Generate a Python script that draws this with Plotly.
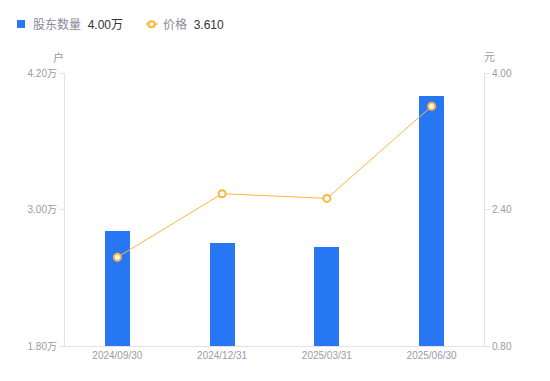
import plotly.graph_objects as go

categories = ["2024/09/30", "2024/12/31", "2025/03/31", "2025/06/30"]
holders = [2.81, 2.705, 2.67, 4.00]   # 万户
price = [1.84, 2.585, 2.53, 3.61]     # 元
left_ticks = [1.80, 3.00, 4.20]
right_ticks = [0.80, 2.40, 4.00]

FONT = "Liberation Sans, Noto Sans CJK SC, sans-serif"
GRAY = "#9b9ba8"
AXIS = "#e2e2e8"

fig = go.Figure()
fig.add_trace(go.Bar(
    x=categories, y=holders, name="股东数量",
    marker=dict(color="#2777f5", line=dict(width=0)),
    width=0.24, yaxis="y",
))
fig.add_trace(go.Scatter(
    x=categories, y=price, name="价格", mode="lines+markers",
    line=dict(color="#ffb53a", width=1),
    marker=dict(size=7, color="white", line=dict(color="#ffb53a", width=2)),
    yaxis="y2",
))

fig.update_layout(
    width=550, height=381,
    margin=dict(l=57, r=74, t=65, b=43),
    paper_bgcolor="white", plot_bgcolor="white",
    font=dict(family=FONT, size=10, color=GRAY),
    showlegend=False,
    bargap=0,
    xaxis=dict(
        type="category", showgrid=False, showline=True, linecolor=AXIS, linewidth=1,
        ticks="", tickfont=dict(size=10, color=GRAY), zeroline=False,
    ),
    yaxis=dict(
        range=[left_ticks[0], left_ticks[-1]], tickvals=left_ticks,
        ticktext=[f"{v:.2f}万" for v in left_ticks],
        showgrid=False, zeroline=False, showline=True, linecolor=AXIS, linewidth=1,
        ticks="outside", ticklen=5, tickcolor=AXIS, tickfont=dict(size=10, color=GRAY),
    ),
    yaxis2=dict(
        range=[right_ticks[0], right_ticks[-1]], tickvals=right_ticks,
        ticktext=[f"{v:.2f}" for v in right_ticks],
        overlaying="y", side="right",
        showgrid=False, zeroline=False, showline=True, linecolor=AXIS, linewidth=1,
        ticks="outside", ticklen=5, tickcolor=AXIS, tickfont=dict(size=10, color=GRAY),
    ),
)

# axis unit labels
fig.add_annotation(text="户", xref="paper", yref="paper", x=-0.015, y=1.0, yshift=16,
                   showarrow=False, font=dict(size=11, color=GRAY), xanchor="center", yanchor="middle")
fig.add_annotation(text="元", xref="paper", yref="paper", x=1.013, y=1.0, yshift=16,
                   showarrow=False, font=dict(size=11, color=GRAY), xanchor="center", yanchor="middle")

# custom legend
fig.add_shape(type="rect", xref="paper", yref="paper", x0=-0.1146, x1=-0.0955, y0=1.165, y1=1.194,
              fillcolor="#2777f5", line=dict(width=0))
fig.add_annotation(
    text=f"股东数量  <span style='color:#333333'>{holders[-1]:.2f}万</span>",
    xref="paper", yref="paper", x=-0.082, y=1.179, showarrow=False,
    xanchor="left", yanchor="middle", font=dict(size=12, color="#8a8a98"))
fig.add_shape(type="line", xref="paper", yref="paper", x0=0.194, x1=0.220, y0=1.179, y1=1.179,
              line=dict(color="#ffb53a", width=2))
fig.add_shape(type="circle", xref="paper", yref="paper", x0=0.199, x1=0.214, y0=1.168, y1=1.190,
              fillcolor="white", line=dict(color="#ffb53a", width=2))
fig.add_annotation(
    text=f"价格  <span style='color:#333333'>{price[-1]:.3f}</span>",
    xref="paper", yref="paper", x=0.230, y=1.179, showarrow=False,
    xanchor="left", yanchor="middle", font=dict(size=12, color="#8a8a98"))

fig.write_html("out.html")
